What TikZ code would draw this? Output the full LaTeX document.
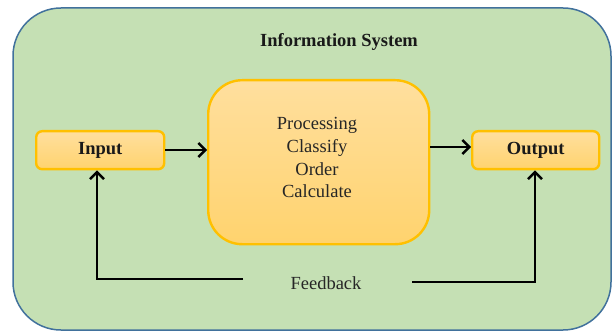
\documentclass[tikz,border=0pt]{standalone}
\usepackage{fontspec}
\setmainfont{Liberation Serif}
\usetikzlibrary{arrows.meta}
\definecolor{sysgreen}{HTML}{C5E0B4}
\definecolor{sysblue}{HTML}{41719C}
\definecolor{boxtop}{HTML}{FFDF9E}
\definecolor{boxbot}{HTML}{FFD36E}
\definecolor{boxline}{HTML}{FFC000}
\tikzset{
  sysbox/.style={draw=boxline, line width=2.4pt, top color=boxtop, bottom color=boxbot, rounded corners=6pt, inner sep=0pt},
  flow/.style={draw=black, line width=2.6pt, -{Straight Barb[length=7pt,width=14pt,line width=2.4pt]}},
  lbl/.style={font=\fontsize{18.5}{22}\selectfont, text=black!85},
  blbl/.style={font=\fontsize{18.5}{22}\selectfont\bfseries, text=black!90}
}
\begin{document}
\begin{tikzpicture}[x=1pt,y=-1pt]
\useasboundingbox (0,0) rectangle (613,331);
% outer system frame
\draw[sysblue, line width=1.5pt, fill=sysgreen, rounded corners=48pt] (13,8) rectangle (611,330);
\node[blbl] (title) at (339,42) {Information System};

% components
\node[sysbox, minimum width=128pt, minimum height=38pt, anchor=north west] (in) at (35,130) {};
\node[blbl] (intext) at (in.center) {Input};
\node[sysbox, rounded corners=34pt, minimum width=221pt, minimum height=164pt, anchor=north west] (proc) at (207,79) {};
\node[lbl, align=center, inner sep=0pt] (ptext) at (317,157) {Processing\\[1pt]Classify\\[1pt]Order\\Calculate};
\node[sysbox, minimum width=127pt, minimum height=38pt, anchor=north west] (out) at (471,130) {};
\node[blbl] (outtext) at (out.center) {Output};

% forward flow
\draw[flow] (in.east |- 0,150) -- (proc.west |- 0,150);
\draw[flow] (proc.east |- 0,147) -- (out.west |- 0,147);

% feedback loop
\node[lbl] (fb) at (326,283) {Feedback};
\coordinate (fbl) at (243,279);
\coordinate (fbr) at (412,282);
\draw[flow] (fbl) -- (97,279) -- (in.south -| 97,0);
\draw[flow] (fbr) -- (535,282) -- (out.south -| 535,0);
\end{tikzpicture}
\end{document}
